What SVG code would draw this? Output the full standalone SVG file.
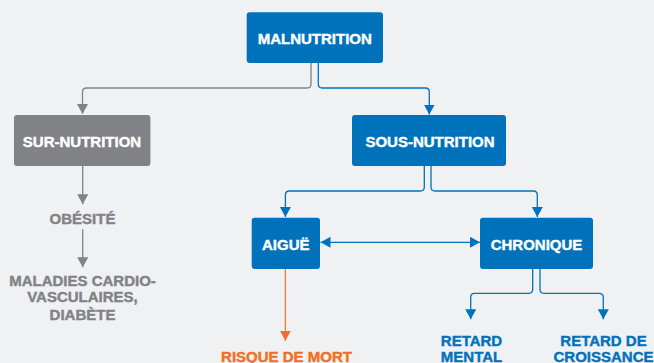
<svg xmlns="http://www.w3.org/2000/svg" width="654" height="363" viewBox="0 0 654 363">
<style>
.t{font-family:"Liberation Sans",Arial,sans-serif;font-weight:bold;font-size:15px;text-anchor:middle;stroke-width:0.4}
.w{fill:#ffffff;stroke:#ffffff}
.g{fill:#808285;stroke:#808285}
.b{fill:#0072BC;stroke:#0072BC}
.o{fill:#F26F21;stroke:#F26F21}
.bx{fill:#0072BC}
.gx{fill:#808285}
.c{fill:none;stroke-width:1.3}
.cb{stroke:#0072BC}
.cg{stroke:#808285}
.co{stroke:#F37A3A}
</style>
<defs>
<marker id="ab" markerUnits="userSpaceOnUse" markerWidth="12" markerHeight="12" refX="10" refY="5.5" orient="auto"><path d="M0,0 L10,5.5 L0,11 Z" fill="#0072BC"/></marker>
<marker id="ag" markerUnits="userSpaceOnUse" markerWidth="12" markerHeight="12" refX="10" refY="5.5" orient="auto"><path d="M0,0 L10,5.5 L0,11 Z" fill="#808285"/></marker>
<marker id="ao" markerUnits="userSpaceOnUse" markerWidth="12" markerHeight="12" refX="10" refY="5.5" orient="auto"><path d="M0,0 L10,5.5 L0,11 Z" fill="#F26F21"/></marker>
<marker id="abs" markerUnits="userSpaceOnUse" markerWidth="12" markerHeight="12" refX="10" refY="5.5" orient="auto-start-reverse"><path d="M0,0 L10,5.5 L0,11 Z" fill="#0072BC"/></marker>
</defs>
<rect x="0" y="0" width="654" height="363" fill="#F0F1F3"/>
<g id="connectors">
<path class="c cg" d="M311,63 V84 Q311,88 307,88 H86.5 Q82.5,88 82.5,92 V114" marker-end="url(#ag)"/>
<path class="c cb" d="M318.3,63 V84 Q318.3,88 322.3,88 H425.3 Q429.3,88 429.3,92 V114.5" marker-end="url(#ab)"/>
<path class="c cg" d="M82.7,166 V204.3" marker-end="url(#ag)"/>
<path class="c cg" d="M82.7,229.3 V267.3" marker-end="url(#ag)"/>
<path class="c cb" d="M424.3,166 V187 Q424.3,191 420.3,191 H289.4 Q285.4,191 285.4,195 V217" marker-end="url(#ab)"/>
<path class="c cb" d="M431,166 V187 Q431,191 435,191 H533.3 Q537.3,191 537.3,195 V217" marker-end="url(#ab)"/>
<path class="c cb" d="M320.5,242.3 H480" marker-start="url(#abs)" marker-end="url(#abs)"/>
<path class="c co" d="M285.4,269 V340.7" marker-end="url(#ao)"/>
<path class="c cb" d="M532.7,269 V289.3 Q532.7,293.3 528.7,293.3 H474.7 Q470.7,293.3 470.7,297.3 V319.3" marker-end="url(#ab)"/>
<path class="c cb" d="M540,269 V289.3 Q540,293.3 544,293.3 H599.3 Q603.3,293.3 603.3,297.3 V319.3" marker-end="url(#ab)"/>
</g>
<g id="malnutrition"><rect class="bx" x="246.7" y="12.3" width="136.3" height="50.7" rx="3"/><text class="t w" x="314.8" y="44">MALNUTRITION</text></g>
<g id="sur-nutrition"><rect class="gx" x="14" y="115" width="136.4" height="51" rx="3"/><text class="t w" x="82" y="147">SUR-NUTRITION</text></g>
<g id="sous-nutrition"><rect class="bx" x="352" y="115" width="154" height="51" rx="3"/><text class="t w" x="430" y="147">SOUS-NUTRITION</text></g>
<g id="obesite"><text class="t g" x="82.5" y="224">OBÉSITÉ</text></g>
<g id="maladies"><text class="t g" x="82.5" y="286">MALADIES CARDIO-</text><text class="t g" x="82.5" y="302">VASCULAIRES,</text><text class="t g" x="82.5" y="320">DIABÈTE</text></g>
<g id="aigue"><rect class="bx" x="251.7" y="217.7" width="68.3" height="51.3" rx="3"/><text class="t w" x="285.8" y="250">AIGUË</text></g>
<g id="chronique"><rect class="bx" x="480" y="217.7" width="113" height="51.3" rx="3"/><text class="t w" x="536.5" y="250">CHRONIQUE</text></g>
<g id="risque"><text class="t o" x="286.5" y="361.5">RISQUE DE MORT</text></g>
<g id="retard-mental"><text class="t b" x="471.5" y="345.5">RETARD</text><text class="t b" x="471.5" y="361.5">MENTAL</text></g>
<g id="retard-croissance"><text class="t b" x="603.5" y="345.5">RETARD DE</text><text class="t b" x="603.5" y="361.5">CROISSANCE</text></g>
</svg>
